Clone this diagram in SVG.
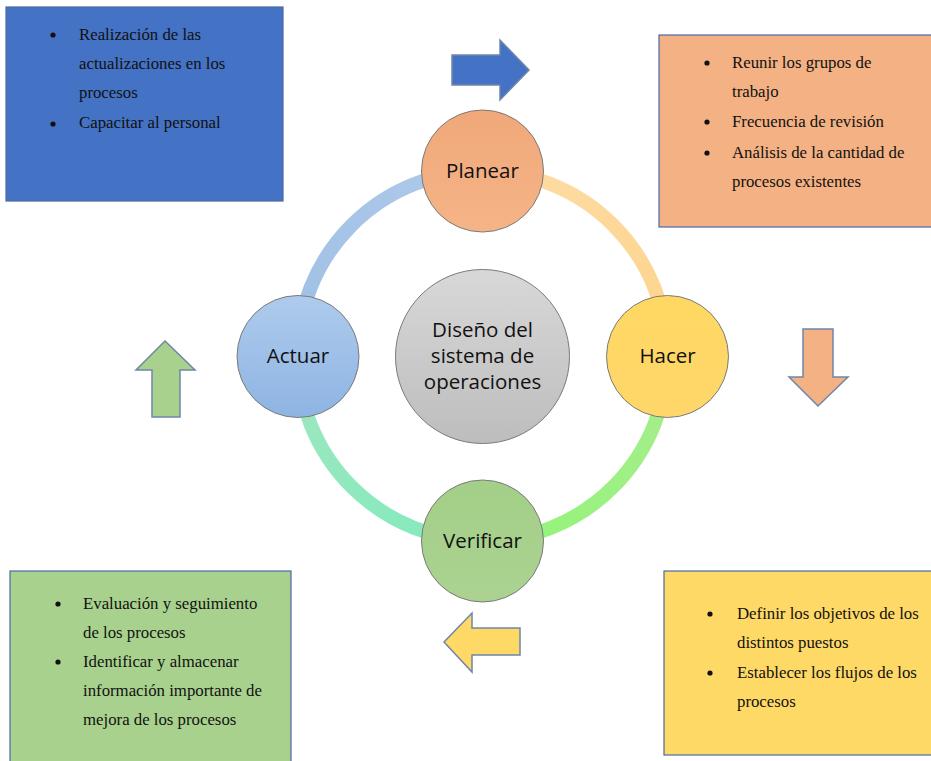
<svg xmlns="http://www.w3.org/2000/svg" width="931" height="761" viewBox="0 0 931 761">
<defs>
<style>
.box{stroke:#4a6aa5;stroke-width:1.2}
.bt{font-family:"Liberation Serif","Times New Roman",serif;font-size:16.8px;fill:#111}
.ct{font-family:"Open Sans","Noto Sans",sans-serif;font-size:20.5px;fill:#111;text-anchor:middle}
.node{stroke:#7a7a7a;stroke-width:1}
.arr{stroke:#6f86a8;stroke-width:1.5;stroke-linejoin:miter}
.ring{fill:none;stroke-width:14}
</style>
<linearGradient id="gP" x1="0" y1="0" x2="0" y2="1"><stop offset="0" stop-color="#F0A87A"/><stop offset="1" stop-color="#F5B487"/></linearGradient>
<linearGradient id="gH" x1="0" y1="0" x2="0" y2="1"><stop offset="0" stop-color="#FFD863"/><stop offset="1" stop-color="#FFD66A"/></linearGradient>
<linearGradient id="gV" x1="0" y1="0" x2="0" y2="1"><stop offset="0" stop-color="#A3CF88"/><stop offset="1" stop-color="#ABD291"/></linearGradient>
<linearGradient id="gA" x1="0" y1="0" x2="0" y2="1"><stop offset="0" stop-color="#AECBEC"/><stop offset="1" stop-color="#8EB4E3"/></linearGradient>
<linearGradient id="gC" x1="0" y1="0" x2="0" y2="1"><stop offset="0" stop-color="#D8D8D8"/><stop offset="1" stop-color="#BDBDBD"/></linearGradient>
<linearGradient id="r1" gradientUnits="userSpaceOnUse" x1="482" y1="171" x2="667" y2="356"><stop offset="0" stop-color="#FDDCA6"/><stop offset="1" stop-color="#FDD48C"/></linearGradient>
<linearGradient id="r2" gradientUnits="userSpaceOnUse" x1="667" y1="356" x2="482" y2="541"><stop offset="0" stop-color="#A8EC8E"/><stop offset="1" stop-color="#92F579"/></linearGradient>
<linearGradient id="r3" gradientUnits="userSpaceOnUse" x1="482" y1="541" x2="298" y2="356"><stop offset="0" stop-color="#80EBBD"/><stop offset="1" stop-color="#A0E6BF"/></linearGradient>
<linearGradient id="r4" gradientUnits="userSpaceOnUse" x1="298" y1="356" x2="482" y2="171"><stop offset="0" stop-color="#9EBFE5"/><stop offset="1" stop-color="#AFCAEA"/></linearGradient>
</defs>
<rect width="931" height="761" fill="#ffffff"/>

<g id="connectors">
<path class="ring" stroke="url(#r1)" d="M482.5 171 A185 185 0 0 1 667.5 356"/>
<path class="ring" stroke="url(#r2)" d="M667.5 356 A185 185 0 0 1 482.5 541"/>
<path class="ring" stroke="url(#r3)" d="M482.5 541 A185 185 0 0 1 297.5 356"/>
<path class="ring" stroke="url(#r4)" d="M297.5 356 A185 185 0 0 1 482.5 171"/>
</g>

<g id="box-actuar">
<rect class="box" x="6" y="7" width="277" height="194" fill="#4472C4"/>
<circle cx="53" cy="35" r="2.6" fill="#111"/>
<circle cx="53" cy="124" r="2.6" fill="#111"/>
<text class="bt" x="79" y="40">Realización de las</text>
<text class="bt" x="79" y="69">actualizaciones en los</text>
<text class="bt" x="79" y="98">procesos</text>
<text class="bt" x="79" y="128">Capacitar al personal</text>
</g>

<g id="box-planear">
<rect class="box" x="659" y="35" width="290" height="192" fill="#F4B183"/>
<circle cx="707" cy="63" r="2.6" fill="#111"/>
<circle cx="707" cy="122" r="2.6" fill="#111"/>
<circle cx="707" cy="153" r="2.6" fill="#111"/>
<text class="bt" x="732" y="68">Reunir los grupos de</text>
<text class="bt" x="732" y="97">trabajo</text>
<text class="bt" x="732" y="127">Frecuencia de revisión</text>
<text class="bt" x="732" y="158">Análisis de la cantidad de</text>
<text class="bt" x="732" y="187">procesos existentes</text>
</g>

<g id="box-verificar">
<rect class="box" x="10" y="571" width="281" height="200" fill="#A9D18E"/>
<circle cx="58" cy="604" r="2.6" fill="#111"/>
<circle cx="58" cy="662" r="2.6" fill="#111"/>
<text class="bt" x="83" y="609">Evaluación y seguimiento</text>
<text class="bt" x="83" y="638">de los procesos</text>
<text class="bt" x="83" y="667">Identificar y almacenar</text>
<text class="bt" x="83" y="696">información importante de</text>
<text class="bt" x="83" y="725">mejora de los procesos</text>
</g>

<g id="box-hacer">
<rect class="box" x="664" y="571" width="290" height="184" fill="#FFD966"/>
<circle cx="710" cy="614" r="2.6" fill="#111"/>
<circle cx="710" cy="673" r="2.6" fill="#111"/>
<text class="bt" x="737" y="619">Definir los objetivos de los</text>
<text class="bt" x="737" y="648">distintos puestos</text>
<text class="bt" x="737" y="678">Establecer los flujos de los</text>
<text class="bt" x="737" y="707">procesos</text>
</g>

<g id="arrow-right">
<polygon class="arr" fill="#4472C4" stroke="#3a5f9f" points="452,55 500,55 500,40 529,70 500,100 500,85 452,85"/>
</g>
<g id="arrow-down">
<polygon class="arr" fill="#F4B183" points="803,329 833,329 833,377 848,377 818,406 789,377 803,377"/>
</g>
<g id="arrow-left">
<polygon class="arr" fill="#FFD966" points="520,628 472,628 472,613 444,642 472,672 472,655 520,655"/>
</g>
<g id="arrow-up">
<polygon class="arr" fill="#A9D18E" points="165,341 195,370 180,370 180,417 152,417 152,370 136,370"/>
</g>

<g id="node-planear">
<circle class="node" cx="482.5" cy="171" r="61" fill="url(#gP)"/>
<text class="ct" x="482.5" y="178">Planear</text>
</g>
<g id="node-hacer">
<circle class="node" cx="667.5" cy="356.5" r="61" fill="url(#gH)"/>
<text class="ct" x="667.5" y="363">Hacer</text>
</g>
<g id="node-verificar">
<circle class="node" cx="482.5" cy="541" r="61" fill="url(#gV)"/>
<text class="ct" x="482.5" y="548">Verificar</text>
</g>
<g id="node-actuar">
<circle class="node" cx="298" cy="356.5" r="61" fill="url(#gA)"/>
<text class="ct" x="298" y="363">Actuar</text>
</g>
<g id="node-centro">
<circle class="node" cx="482.5" cy="356.5" r="87" fill="url(#gC)"/>
<text class="ct" x="482.5" y="337">Diseño del</text>
<text class="ct" x="482.5" y="363">sistema de</text>
<text class="ct" x="482.5" y="389">operaciones</text>
</g>
</svg>
